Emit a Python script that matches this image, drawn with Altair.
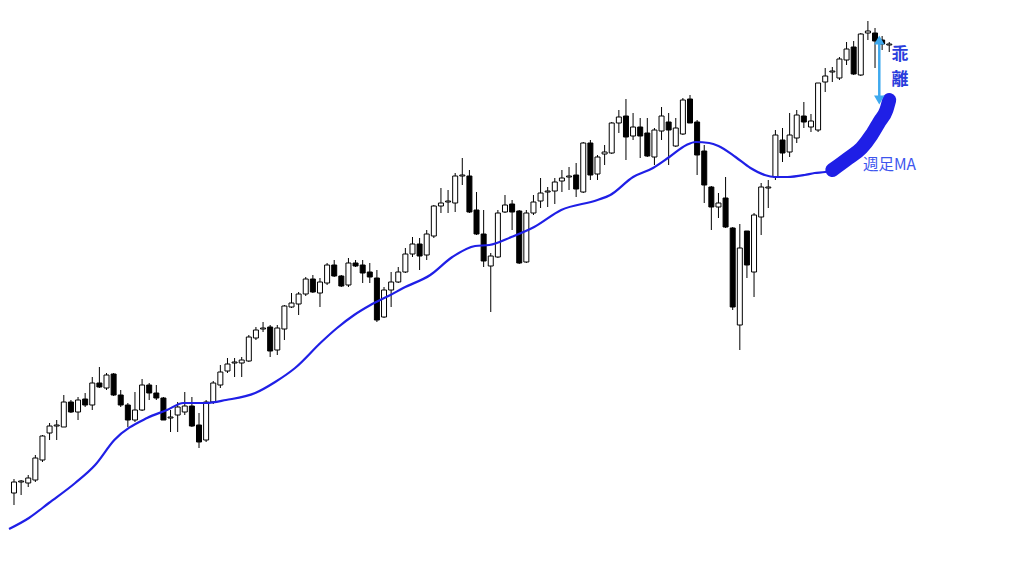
import altair as alt
import pandas as pd

# ---- candle data (price units) ----
opens = [83, 94, 93, 96, 116, 143, 150, 149, 174, 164, 177, 171, 193, 188, 202, 181, 171, 156, 166, 191,
         183, 178, 158, 161, 164, 170, 151, 136, 174, 191, 205, 213, 213, 215, 238, 247, 249, 226, 247, 269,
         272, 282, 297, 283, 293, 311, 300, 291, 313, 311, 304, 298, 259, 286, 294, 304, 322, 332, 321, 340,
         370, 374, 373, 400, 400, 366, 342, 310, 319, 364, 372, 365, 314, 363, 375, 384, 385, 395, 399, 401,
         384, 433, 402, 422, 423, 453, 460, 440, 449, 443, 419, 445, 454, 430, 442, 477, 454, 425, 389, 369,
         378, 348, 251, 345, 304, 359, 388, 399, 436, 424, 438, 460, 449, 446, 494, 504, 498, 516, 529, 501,
         543, 543, 536, 531]
highs = [97, 96, 101, 121, 141, 153, 156, 181, 176, 179, 183, 199, 209, 203, 203, 186, 173, 184, 197, 193,
         191, 179, 166, 174, 184, 179, 163, 176, 195, 211, 218, 218, 219, 241, 249, 254, 251, 251, 271, 283,
         284, 299, 301, 298, 313, 316, 301, 318, 316, 316, 313, 306, 289, 304, 309, 328, 339, 338, 346, 371,
         388, 386, 403, 418, 406, 384, 366, 323, 366, 381, 376, 366, 366, 381, 398, 389, 398, 406, 409, 413,
         434, 436, 421, 431, 454, 466, 477, 463, 458, 458, 448, 469, 463, 458, 478, 481, 456, 431, 390, 383,
         399, 349, 352, 345, 363, 393, 396, 446, 448, 463, 466, 474, 462, 493, 508, 509, 519, 534, 535, 543,
         555, 548, 540, 534]
lows = [71, 81, 89, 94, 114, 136, 136, 149, 163, 156, 169, 166, 188, 186, 180, 169, 149, 154, 165, 176,
        176, 156, 144, 144, 161, 149, 128, 134, 172, 188, 203, 199, 199, 214, 236, 244, 219, 221, 236, 268,
        261, 280, 283, 269, 291, 299, 289, 289, 309, 293, 293, 254, 258, 269, 293, 303, 319, 306, 316, 338,
        363, 363, 364, 391, 363, 341, 309, 264, 318, 363, 346, 312, 313, 361, 368, 369, 372, 384, 386, 379,
        383, 396, 396, 411, 422, 443, 416, 436, 418, 419, 411, 436, 411, 429, 441, 453, 401, 373, 346, 358,
        348, 266, 226, 298, 279, 341, 368, 396, 414, 419, 433, 448, 444, 444, 484, 494, 496, 511, 501, 500,
        536, 508, 526, 524]
closes = [94, 95, 98, 118, 140, 150, 151, 174, 164, 176, 171, 193, 189, 201, 181, 171, 156, 166, 191, 183,
          178, 156, 159, 169, 170, 150, 134, 174, 193, 204, 212, 214, 216, 239, 246, 248, 225, 248, 270, 273,
          282, 297, 284, 294, 311, 300, 290, 313, 310, 303, 299, 256, 286, 294, 304, 322, 332, 320, 342, 370,
          373, 375, 400, 401, 364, 342, 315, 320, 363, 371, 364, 313, 363, 374, 383, 385, 394, 398, 400, 387,
          433, 401, 419, 424, 453, 459, 439, 449, 440, 420, 446, 460, 446, 448, 476, 453, 421, 391, 369, 373,
          349, 269, 328, 311, 361, 389, 389, 441, 423, 441, 461, 454, 455, 493, 500, 505, 517, 527, 502, 542,
          545, 535, 532, 532]

# ---- weekly moving average (position along candle index, price) ----
ma_idx = [-0.7, 2.1, 4.9, 8.6, 11.4, 14.1, 18.7, 21.5, 23.8, 27.0, 29.8, 33.9, 36.7, 39.5, 43.2, 45.4,
          47.8, 50.1, 52.9, 54.7, 58.5, 61.6, 64.8, 66.8, 69.9, 73.1, 76.9, 82.0, 83.8, 87.0, 89.8, 92.1,
          94.5, 95.8, 97.7, 99.0, 101.4, 103.5, 105.5, 106.9, 108.7, 111.1, 112.5, 114.0, 115.0]
ma_val = [47, 58, 73, 93, 111, 136, 158, 166, 173, 173, 176, 183, 194, 208, 234, 248,
          261, 271, 281, 288, 301, 319, 330, 331, 339, 349, 366, 376, 381, 399, 408, 419,
          431, 434, 433, 430, 419, 408, 401, 399, 399, 401, 403, 404, 406]

# ---- hand-drawn highlight at the end of the MA ----
hl_idx = [115.0, 117.3, 119.1, 120.5, 121.6, 122.6, 123.0]
hl_val = [406, 418, 428, 441, 454, 466, 476]

# ---- annotations ----
arrow_idx = [121.6]
arrow_top = [536]
arrow_bot = [476]
gap_label = ["乖\n離"]
gap_idx = [124.5]
gap_val = [521]
ma_label = ["週足MA"]
ma_label_idx = [119.3]
ma_label_val = [411.5]

df = pd.DataFrame({"i": list(range(len(opens))), "open": opens, "high": highs,
                   "low": lows, "close": closes})
ma_df = pd.DataFrame({"i": ma_idx, "v": ma_val})
hl_df = pd.DataFrame({"i": hl_idx, "v": hl_val})
arr_df = pd.DataFrame({"i": arrow_idx, "top": arrow_top, "bot": arrow_bot})
gap_df = pd.DataFrame({"i": gap_idx, "v": gap_val, "t": gap_label})
lab_df = pd.DataFrame({"i": ma_label_idx, "v": ma_label_val, "t": ma_label})

xs = alt.Scale(domain=[-0.14, 140.11], nice=False, zero=False)
ys = alt.Scale(domain=[8, 568], nice=False, zero=False)
X = alt.X("i:Q", scale=xs, axis=None)

wicks = alt.Chart(df).mark_rule(color="#000000", strokeWidth=1).encode(
    x=X, y=alt.Y("low:Q", scale=ys, axis=None), y2="high:Q")
bodies = alt.Chart(df).mark_bar(size=5, stroke="#000000", strokeWidth=1).encode(
    x=X, y=alt.Y("open:Q", scale=ys, axis=None), y2="close:Q",
    fill=alt.condition("datum.close >= datum.open", alt.value("#ffffff"), alt.value("#000000")))

ma_line = alt.Chart(ma_df).mark_line(color="#1f1fe6", strokeWidth=2.2, interpolate="monotone").encode(
    x=X, y=alt.Y("v:Q", scale=ys, axis=None))
hl_line = alt.Chart(hl_df).mark_line(color="#1f1fe6", strokeWidth=14, strokeCap="round",
                                     strokeJoin="round", interpolate="monotone").encode(
    x=X, y=alt.Y("v:Q", scale=ys, axis=None))

arrow_line = alt.Chart(arr_df).mark_rule(color="#3ea9ee", strokeWidth=2.5).encode(
    x=X, y=alt.Y("top:Q", scale=ys, axis=None), y2="bot:Q")
arrow_up = alt.Chart(arr_df).mark_point(shape="triangle-up", filled=True, size=110,
                                        color="#3ea9ee", opacity=1).encode(
    x=X, y=alt.Y("top:Q", scale=ys, axis=None))
arrow_dn = alt.Chart(arr_df).mark_point(shape="triangle-down", filled=True, size=110,
                                        color="#3ea9ee", opacity=1).encode(
    x=X, y=alt.Y("bot:Q", scale=ys, axis=None))

gap_text = alt.Chart(gap_df).mark_text(font="Noto Sans CJK JP", fontSize=17, fontWeight="bold",
                                       lineBreak="\n", lineHeight=25,
                                       color="#2a3ddc", align="center", baseline="middle").encode(
    x=X, y=alt.Y("v:Q", scale=ys, axis=None), text="t:N")
lab_text = alt.Chart(lab_df).mark_text(font="Noto Sans CJK JP", fontSize=15.5,
                                       color="#3d55ee", align="left", baseline="middle").encode(
    x=X, y=alt.Y("v:Q", scale=ys, axis=None), text="t:N")

chart = alt.layer(wicks, bodies, ma_line, hl_line, arrow_line, arrow_up, arrow_dn,
                  gap_text, lab_text).properties(
    width=1008, height=560, background="#ffffff", padding=0,
    autosize=alt.AutoSizeParams(type="none")
).configure_view(stroke=None)

chart.save("out.html", embed_options={"renderer": "svg", "actions": False})
